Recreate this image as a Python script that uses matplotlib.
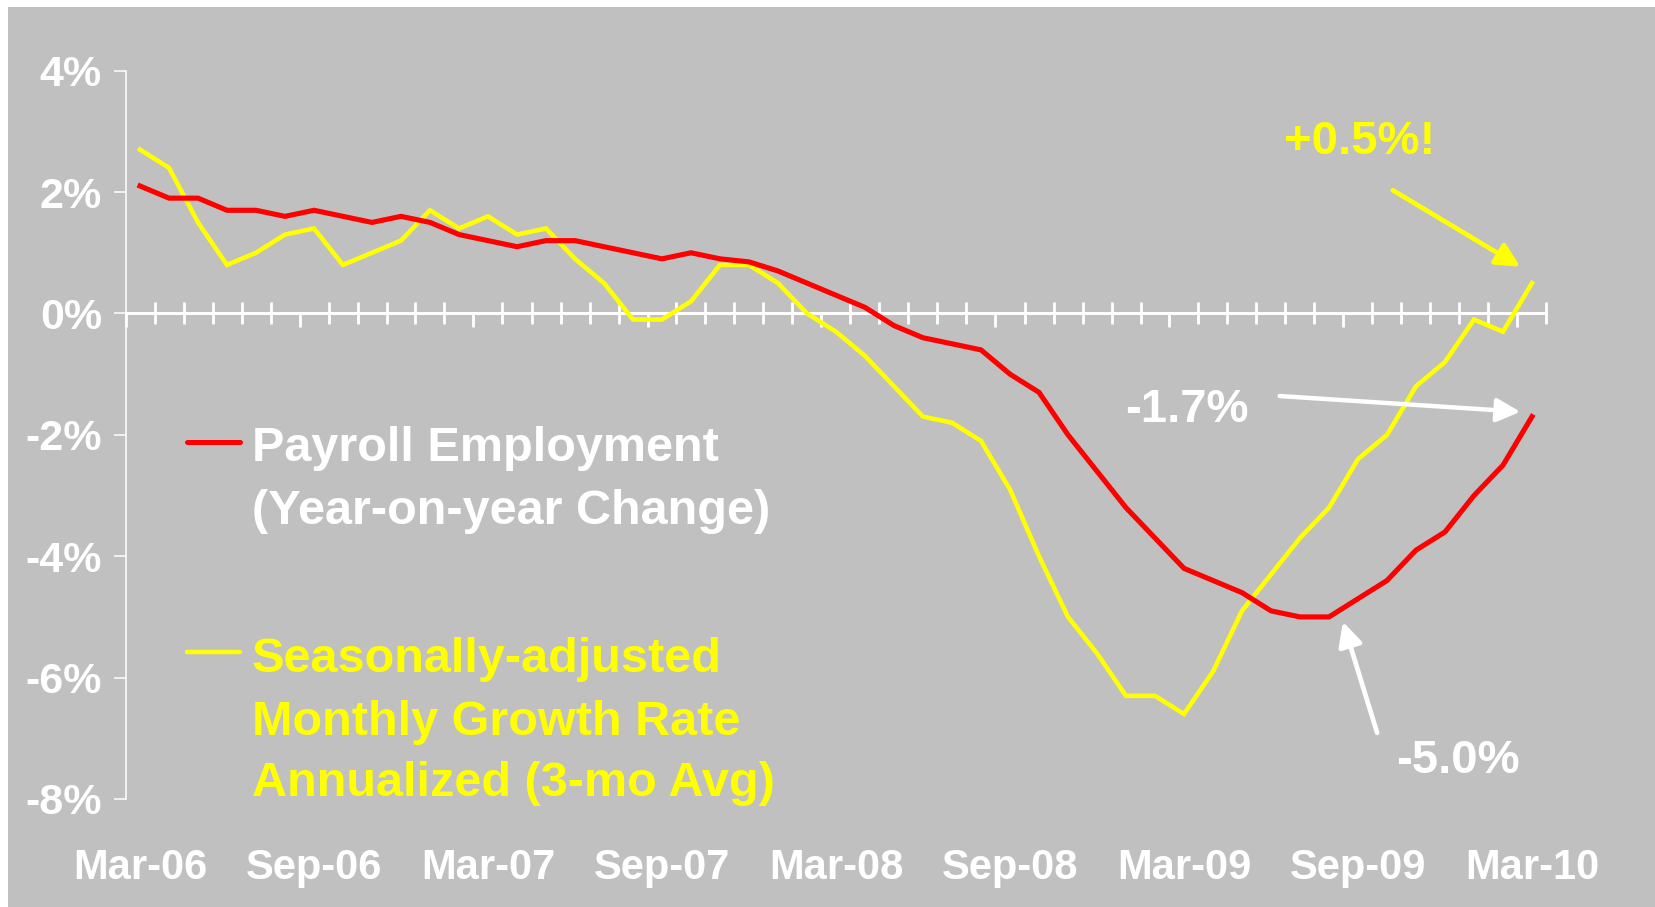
import numpy as np
import matplotlib
matplotlib.use('Agg')
import matplotlib.pyplot as plt
from matplotlib.lines import Line2D
from matplotlib.patches import Rectangle
from matplotlib.ticker import FixedLocator

plt.rcParams['font.family'] = ['Liberation Sans', 'DejaVu Sans']
plt.rcParams['font.weight'] = 'bold'

# data (monthly, Mar-06 .. Mar-10), percent
payroll_yoy = [2.1, 1.9, 1.9, 1.7, 1.7, 1.6, 1.7, 1.6, 1.5, 1.6,
               1.5, 1.3, 1.2, 1.1, 1.2, 1.2, 1.1, 1.0, 0.9, 1.0,
               0.9, 0.85, 0.7, 0.5, 0.3, 0.1, -0.2, -0.4, -0.5, -0.6,
               -1.0, -1.3, -2.0, -2.6, -3.2, -3.7, -4.2, -4.4, -4.6, -4.9,
               -5.0, -5.0, -4.7, -4.4, -3.9, -3.6, -3.0, -2.5, -1.7]
monthly_sa_3mo = [2.7, 2.4, 1.5, 0.8, 1.0, 1.3, 1.4, 0.8, 1.0, 1.2,
                  1.7, 1.4, 1.6, 1.3, 1.4, 0.9, 0.5, -0.1, -0.1, 0.2,
                  0.8, 0.8, 0.5, 0.0, -0.3, -0.7, -1.2, -1.7, -1.8, -2.1,
                  -2.9, -4.0, -5.0, -5.6, -6.3, -6.3, -6.6, -5.9, -4.9, -4.3,
                  -3.7, -3.2, -2.4, -2.0, -1.2, -0.8, -0.1, -0.3, 0.5]
month_labels = ['Mar-06', 'Sep-06', 'Mar-07', 'Sep-07', 'Mar-08',
                'Sep-08', 'Mar-09', 'Sep-09', 'Mar-10']
label_every = 6
y_ticks = [4, 2, 0, -2, -4, -6, -8]

grey = '#C0C0C0'
red = '#FF0000'
yellow = '#FFFF00'
white = '#FFFFFF'

W, H = 1655, 907
fig = plt.figure(figsize=(W / 100, H / 100), dpi=100)
fig.patch.set_facecolor('white')
fig.add_artist(Rectangle((8 / W, 0), 1 - 8 / W, 1 - 7 / H, transform=fig.transFigure,
                         facecolor=grey, edgecolor='none', zorder=0))

ax = fig.add_axes([125.5 / W, 1 - 799 / H, 1421 / W, 728.3 / H])
ax.patch.set_alpha(0)

n = len(payroll_yoy)
x = np.arange(n)
ax.plot(x, monthly_sa_3mo, color=yellow, lw=3.3, solid_joinstyle='miter', zorder=3)
ax.plot(x, payroll_yoy, color=red, lw=3.7, solid_joinstyle='miter', zorder=4)

ax.set_xlim(-0.5, n - 0.5)
ax.set_ylim(-8, 4)

# spines
for s in ['top', 'right']:
    ax.spines[s].set_visible(False)
ax.spines['left'].set_color(white)
ax.spines['left'].set_linewidth(1.1)
ax.spines['bottom'].set_position(('data', 0))
ax.spines['bottom'].set_color(white)
ax.spines['bottom'].set_linewidth(2.2)
ax.spines['bottom'].set_zorder(2)

# y axis
ax.set_yticks(y_ticks)
ax.set_yticklabels(['%d%%' % v for v in y_ticks])
ax.tick_params(axis='y', direction='out', length=8.5, width=1.1, color=white,
               labelcolor=white, labelsize=31, pad=8.5)

# x axis ticks between months: every 6th one points down, the rest cross
bounds = np.arange(n + 1) - 0.5
major = [b for k, b in enumerate(bounds) if k % label_every == 0]
minor = [b for k, b in enumerate(bounds) if k % label_every != 0]
ax.xaxis.set_major_locator(FixedLocator(major))
ax.xaxis.set_minor_locator(FixedLocator(minor))
ax.tick_params(axis='x', which='major', direction='out', length=10, width=2,
               color=white, labelbottom=False)
ax.tick_params(axis='x', which='minor', direction='inout', length=16, width=2,
               color=white, labelbottom=False)

for k, lab in enumerate(month_labels):
    ax.text(k * label_every, -0.11, lab, transform=ax.get_xaxis_transform(),
            ha='center', va='baseline', color=white, fontsize=30, fontweight='bold')

# legend drawn by hand
fig.add_artist(Line2D([187 / W, 240 / W], [1 - 442 / H, 1 - 442 / H], color=red, lw=3.6,
                      solid_capstyle='round', transform=fig.transFigure))
fig.add_artist(Line2D([187 / W, 240 / W], [1 - 652 / H, 1 - 652 / H], color=yellow, lw=3.2,
                      solid_capstyle='round', transform=fig.transFigure))
leg_lines = [('Payroll Employment', white, 461),
             ('(Year-on-year Change)', white, 524),
             ('Seasonally-adjusted', yellow, 672),
             ('Monthly Growth Rate', yellow, 735),
             ('Annualized (3-mo Avg)', yellow, 796)]
for txt, col, base in leg_lines:
    fig.text(252 / W, 1 - base / H, txt, color=col, fontsize=35, fontweight='bold',
             ha='left', va='baseline')

# callouts
ax.annotate('', xy=(47.6, 0.77), xytext=(43.2, 2.03),
            arrowprops=dict(arrowstyle='-|>', color=yellow, lw=3.4, mutation_scale=36,
                            shrinkA=0, shrinkB=0))
ax.text(42.07, 2.63, '+0.5%!', color=yellow, fontsize=34, fontweight='bold',
        ha='center', va='baseline')

ax.annotate('', xy=(47.6, -1.62), xytext=(39.3, -1.36),
            arrowprops=dict(arrowstyle='-|>', color=white, lw=3.2, mutation_scale=36,
                            shrinkA=0, shrinkB=0))
ax.text(36.1, -1.79, '-1.7%', color=white, fontsize=34, fontweight='bold',
        ha='center', va='baseline')

ax.annotate('', xy=(41.48, -5.08), xytext=(42.66, -6.91),
            arrowprops=dict(arrowstyle='-|>', color=white, lw=3.4, mutation_scale=36,
                            shrinkA=0, shrinkB=0))
ax.text(45.45, -7.57, '-5.0%', color=white, fontsize=34, fontweight='bold',
        ha='center', va='baseline')

fig.savefig('out.png', dpi=100)
